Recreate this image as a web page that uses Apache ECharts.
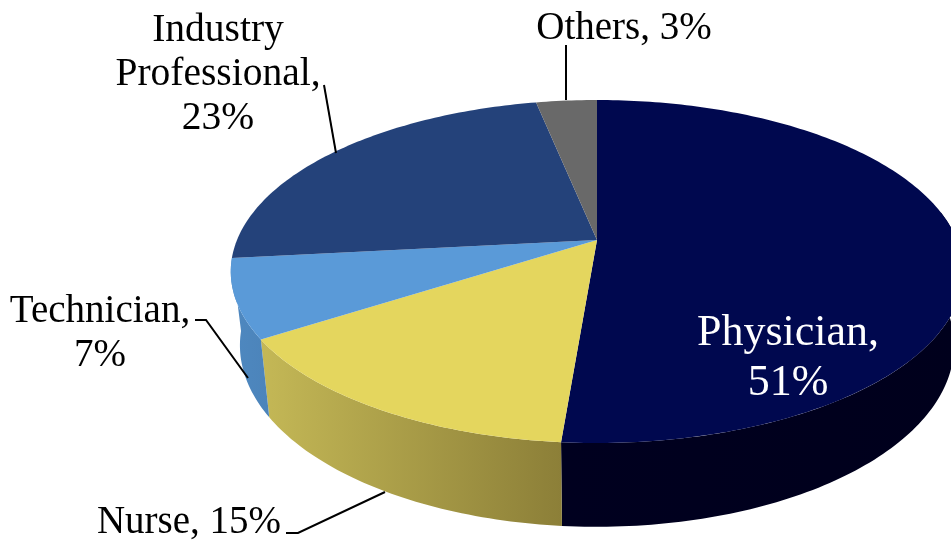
<!DOCTYPE html>
<html>
<head>
<meta charset="utf-8">
<style>html,body{margin:0;padding:0;background:#fff}#chart{width:951px;height:542px}</style>
<script src="https://cdn.jsdelivr.net/npm/echarts@6/dist/echarts.min.js"></script>
</head>
<body>
<div id="chart"></div>
<script>
// slices, clockwise from 12 o'clock
const names = ['Physician', 'Nurse', 'Technician', 'Industry Professional', 'Others'];
const shares = [51.3, 14.6, 7.4, 23.5, 3.2];        // slice size
const percents = ['51%', '15%', '7%', '23%', '3%']; // printed labels

const topColors = ['#00084f', '#e4d65e', '#5a9ad8', '#24427a', '#696969'];
const wallColors = [
    ['#00001f', '#00001c'],
    ['#c4b856', '#8c7f38'],
    ['#4e88c0', '#4c84ba'],
    null,
    null
];

// label layout
const labelText = [
    n => `${names[0]},\n${n}`,
    n => `${names[1]}, ${n}`,
    n => `${names[2]},\n${n}`,
    n => `Industry\nProfessional,\n${n}`,
    n => `${names[4]}, ${n}`
];
const labelPos = [[788, 358], [189, 523], [100, 334], [218, 75], [624, 29]];
const labelSize = [44, 39, 39, 39.5, 39];
const labelLine = [50, 44, 44, 44, 44];
const labelColor = ['#ffffff', '#000000', '#000000', '#000000', '#000000'];
const leaders = [
    null,
    [[286, 533], [298, 533], [385, 492]],
    [[195, 320], [206, 320], [248, 378]],
    [[324, 85], [336, 153]],
    [[566, 45], [566, 100]]
];

// perspective of the tilted disc
const apex = [597, 240];
const radiusX = 360, radiusY = 165.7, persp = 0.1837;
const depthY = 72, bottomShiftX = 0, bottomScaleX = 0.975, bottomScaleY = 1.058;
const wallFrom = 80, wallTo = 265; // degrees of the rim facing the viewer

function rim(deg, bottom) {
    const a = deg * Math.PI / 180;
    const s = 1 / (1 + persp * Math.cos(a));
    const dx = radiusX * Math.sin(a) * s;
    const dy = -radiusY * Math.cos(a) * s;
    if (bottom) return [apex[0] + bottomShiftX + dx * bottomScaleX, apex[1] + dy * bottomScaleY + depthY];
    return [apex[0] + dx, apex[1] + dy];
}

function arc(from, to, bottom) {
    const pts = [];
    const n = Math.max(2, Math.ceil(Math.abs(to - from)));
    for (let k = 0; k <= n; k++) pts.push(rim(from + (to - from) * k / n, bottom));
    return pts;
}

const total = shares.reduce((a, b) => a + b, 0);
let run = 0;
const starts = shares.map(v => { const s = run; run += v; return s; });

const chart = echarts.init(document.getElementById('chart'));

chart.setOption({
    animation: false,
    backgroundColor: '#ffffff',
    series: [{
        type: 'custom',
        coordinateSystem: 'none',
        data: shares.map((v, i) => [i, v]),
        renderItem(params, api) {
            const i = api.value(0);
            const from = starts[i] / total * 360;
            const to = from + api.value(1) / total * 360;
            const children = [];

            // side wall
            const wf = Math.max(from, wallFrom), wt = Math.min(to, wallTo);
            if (wallColors[i] && wt > wf) {
                children.push({
                    type: 'polygon',
                    z2: 1,
                    shape: { points: arc(wf, wt, false).concat(arc(wt, wf, true)) },
                    style: {
                        fill: {
                            type: 'linear', x: 0, y: 0, x2: 1, y2: 0,
                            colorStops: [
                                { offset: 0, color: wallColors[i][0] },
                                { offset: 1, color: wallColors[i][1] }
                            ]
                        }
                    }
                });
            }

            // top face
            children.push({
                type: 'polygon',
                z2: 2,
                shape: { points: [apex].concat(arc(from, to, false)) },
                style: { fill: topColors[i] }
            });

            if (leaders[i]) {
                children.push({
                    type: 'polyline',
                    z2: 3,
                    shape: { points: leaders[i] },
                    style: { stroke: '#000000', lineWidth: 2, fill: null }
                });
            }

            children.push({
                type: 'text',
                z2: 4,
                x: labelPos[i][0],
                y: labelPos[i][1],
                style: {
                    text: labelText[i](percents[i]),
                    fill: labelColor[i],
                    font: labelSize[i] + 'px "Liberation Serif"',
                    lineHeight: labelLine[i],
                    align: 'center',
                    verticalAlign: 'middle'
                }
            });

            return { type: 'group', children };
        }
    }]
});
</script>
</body>
</html>
